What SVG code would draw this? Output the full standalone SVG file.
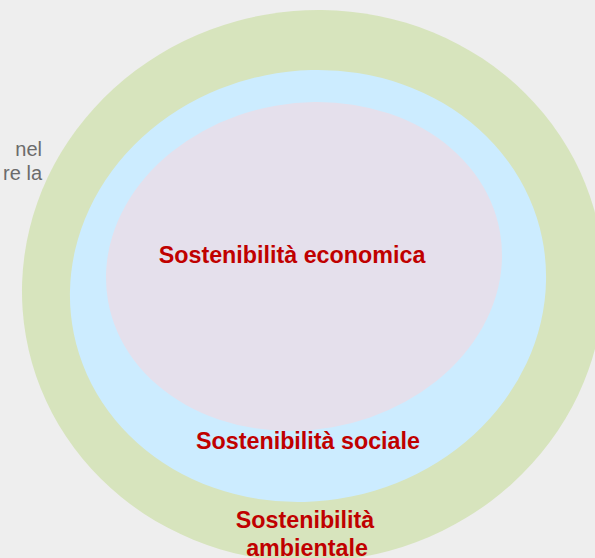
<svg xmlns="http://www.w3.org/2000/svg" width="595" height="558" viewBox="0 0 595 558">
  <style>
    .lbl { font-family: "Liberation Sans", Arial, sans-serif; font-weight: bold; font-size: 23.3px; fill: #C00000; text-anchor: middle; }
    .side { font-family: "Liberation Sans", Arial, sans-serif; font-size: 20px; fill: #6B6B6B; text-anchor: end; }
  </style>
  <rect x="0" y="0" width="595" height="558" fill="#EEEEEE"/>
  <g id="side-text">
    <text class="side" x="42" y="156">nel</text>
    <text class="side" x="42" y="180">re la</text>
  </g>
  <g id="ambientale">
    <ellipse cx="313" cy="286" rx="291.5" ry="275.5" transform="rotate(-10 313 286)" fill="#D7E4BD"/>
    <text class="lbl" x="305" y="528">Sostenibilità</text>
    <text class="lbl" x="307" y="556">ambientale</text>
  </g>
  <g id="sociale">
    <ellipse cx="308" cy="286" rx="239" ry="215" transform="rotate(-11.6 308 286)" fill="#CCECFF"/>
    <text class="lbl" x="308" y="449">Sostenibilità sociale</text>
  </g>
  <g id="economica">
    <ellipse cx="304" cy="266.5" rx="199" ry="163.3" transform="rotate(-10 304 266.5)" fill="#E5E0EC"/>
    <text class="lbl" x="292" y="263">Sostenibilità economica</text>
  </g>
  <g id="connectors"/>
</svg>
